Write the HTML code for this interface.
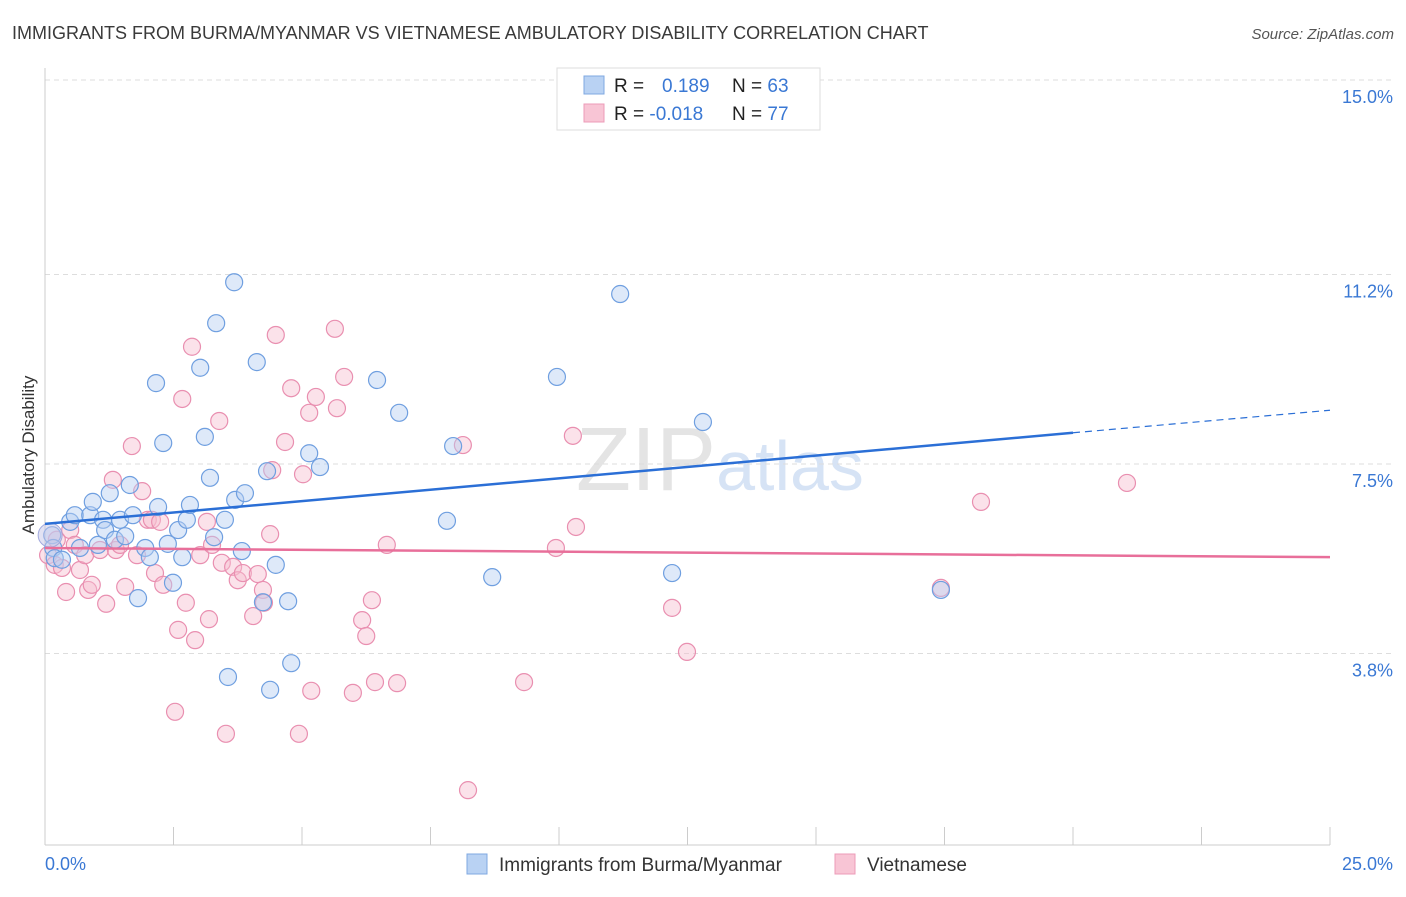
<!DOCTYPE html>
<html><head><meta charset="utf-8"><style>
body{margin:0;background:#fff;font-family:"Liberation Sans",sans-serif;}
svg text{font-family:"Liberation Sans",sans-serif;}
</style></head><body>
<svg id="chart" width="1406" height="892" xmlns="http://www.w3.org/2000/svg">
<text x="12" y="39" font-size="18" fill="#3a3a3a">IMMIGRANTS FROM BURMA/MYANMAR VS VIETNAMESE AMBULATORY DISABILITY CORRELATION CHART</text>
<text x="1394" y="39" font-size="15" fill="#555" text-anchor="end" font-style="italic">Source: ZipAtlas.com</text>
<text x="720" y="490" font-size="90" fill="#e4e4e4" text-anchor="middle" font-family="Liberation Serif">ZIP<tspan fill="#d6e3f5" font-family="Liberation Sans" font-size="70">atlas</tspan></text>
<g id="grid"></g>
<g id="axes"></g>
<g id="points"></g>
<g id="lines"></g>
<text transform="translate(34,455) rotate(-90)" font-size="17" fill="#333" text-anchor="middle">Ambulatory Disability</text>
<g>
<rect x="557" y="68" width="263" height="62" fill="#fff" stroke="#ddd"/>
<rect x="584" y="76" width="20" height="18" fill="#b9d2f3" stroke="#7fa8e2"/>
<rect x="584" y="104" width="20" height="18" fill="#f8c5d5" stroke="#ec9bb8"/>
<text x="614" y="92" font-size="19" fill="#222">R = <tspan fill="#3a78d4" x="662">0.189</tspan><tspan x="732" fill="#222">N = </tspan><tspan fill="#3a78d4">63</tspan></text>
<text x="614" y="120" font-size="19" fill="#222">R = <tspan fill="#3a78d4">-0.018</tspan><tspan x="732" fill="#222">N = </tspan><tspan fill="#3a78d4">77</tspan></text>
</g>
<g>
<rect x="467" y="854" width="20" height="20" fill="#b9d2f3" stroke="#7fa8e2"/>
<text x="499" y="871" font-size="19" fill="#333">Immigrants from Burma/Myanmar</text>
<rect x="835" y="854" width="20" height="20" fill="#f8c5d5" stroke="#ec9bb8"/>
<text x="867" y="871" font-size="19" fill="#333">Vietnamese</text>
</g>
</svg>
<script>
const yTicks=[15.0,11.2,7.5,3.8];
const yTickLabels=["15.0%","11.2%","7.5%","3.8%"];
const xTickLabels=["0.0%","25.0%"];
const blueX=[0.14,0.16,0.19,0.33,0.49,0.58,0.68,0.88,0.93,1.03,1.13,1.17,1.26,1.36,1.46,1.56,1.65,1.71,1.81,1.95,2.04,2.16,2.20,2.30,2.39,2.49,2.59,2.67,2.76,2.82,3.02,3.11,3.21,3.29,3.33,3.50,3.56,3.70,3.68,3.83,3.89,4.12,4.24,4.32,4.38,4.49,4.73,4.79,5.14,5.35,6.46,6.89,7.82,7.94,8.70,9.96,11.19,12.20,12.80,17.43];
const blueY=[6.11,5.86,5.66,5.63,6.37,6.50,5.86,6.50,6.76,5.92,6.41,6.21,6.93,6.02,6.41,6.09,7.09,6.50,4.88,5.86,5.68,9.08,6.66,7.91,5.94,5.18,6.21,5.68,6.41,6.70,9.38,8.03,7.23,6.07,10.25,6.41,3.34,6.80,11.05,5.80,6.93,9.49,4.80,7.36,3.09,5.53,4.82,3.61,7.71,7.44,9.14,8.50,6.39,7.85,5.29,9.20,10.82,5.37,8.32,5.04];
const pinkX=[0.06,0.19,0.23,0.33,0.41,0.49,0.58,0.68,0.78,0.84,0.91,1.07,1.19,1.32,1.38,1.46,1.56,1.69,1.79,1.89,2.00,2.08,2.14,2.24,2.30,2.53,2.59,2.67,2.74,2.86,2.92,3.02,3.15,3.19,3.25,3.39,3.52,3.44,3.66,3.75,3.85,4.05,4.14,4.24,4.26,4.38,4.42,4.49,4.67,4.79,4.94,5.02,5.14,5.18,5.27,5.64,5.68,5.82,5.99,6.17,6.25,6.36,6.42,6.65,6.85,8.13,8.23,9.32,9.94,10.27,10.33,12.20,12.49,17.43,18.21,21.05];
const pinkY=[5.72,5.53,6.02,5.47,5.00,6.21,5.92,5.43,5.72,5.04,5.14,5.82,4.77,7.19,5.82,5.92,5.10,7.85,5.72,6.97,6.41,6.41,5.37,6.37,5.14,2.66,4.26,8.77,4.79,9.79,4.06,5.72,6.37,4.47,5.92,8.34,2.23,5.57,5.49,5.23,5.37,4.53,5.35,5.04,4.79,6.13,7.38,10.02,7.93,8.98,2.23,7.30,8.50,3.07,8.81,10.14,8.59,9.20,3.03,4.45,4.14,4.84,3.24,5.92,3.22,7.87,1.13,3.24,5.86,8.05,6.27,4.69,3.83,5.08,6.76,7.13];
const blueTrend=[6.33,8.11,8.55];
const pinkTrend=[5.86,5.68];
const NS="http://www.w3.org/2000/svg";
const xs=v=>45+v*51.4;
const ys=v=>80+(15-v)*51.2;
function mk(tag,attrs,parent){const e=document.createElementNS(NS,tag);for(const k in attrs)e.setAttribute(k,attrs[k]);document.getElementById(parent).appendChild(e);return e;}
yTicks.forEach((t,i)=>{
 const l=mk('line',{x1:45,x2:1392,y1:ys(t),y2:ys(t),stroke:'#ddd','stroke-dasharray':'5,4'},'grid');
 
 
 const tx=mk('text',{x:1393,y:ys(t)+23,'font-size':18,fill:'#3a78d4','text-anchor':'end'},'axes');
 tx.textContent=yTickLabels[i];
 
 
});
const ax=mk('line',{x1:45,x2:1330,y1:845,y2:845,stroke:'#ccc'},'axes');


const ay=mk('line',{x1:45,x2:45,y1:68,y2:845,stroke:'#ccc'},'axes');


for(let i=0;i<=10;i++){
 const t=mk('line',{x1:xs(i*2.5),x2:xs(i*2.5),y1:827,y2:845,stroke:'#ccc'},'axes');
 
 
}
[[0,45,'start'],[25,1393,'end']].forEach((d,i)=>{
 const tx=mk('text',{x:d[1],y:870,'font-size':18,fill:'#3a78d4','text-anchor':d[2]},'axes');
 tx.textContent=xTickLabels[i];
 
 
});
function pts(X,Y,fill,stroke,name){X.forEach((x,i)=>{
 const c=mk('circle',{cx:xs(x),cy:ys(Y[i]),r:8.5,fill:fill,'fill-opacity':0.45,stroke:stroke,'stroke-width':1.2},'points');
 
 
});}
pts(pinkX,pinkY,'#f6bfd1','#e98fb0','vietnamese-point');
pts(blueX,blueY,'#b5cff2','#6f9fe0','burma-point');
const big=mk('circle',{cx:xs(0.1),cy:ys(6.11),r:12,fill:'#c6c6e8','fill-opacity':0.5,stroke:'#a0a8dd'},'points');


const b1=mk('line',{x1:xs(0),y1:ys(blueTrend[0]),x2:xs(20),y2:ys(blueTrend[1]),stroke:'#2b6fd6','stroke-width':2.5},'lines');


const b2=mk('line',{x1:xs(20),y1:ys(blueTrend[1]),x2:xs(25),y2:ys(blueTrend[2]),stroke:'#2b6fd6','stroke-width':1.2,'stroke-dasharray':'7,5'},'lines');


const p1=mk('line',{x1:xs(0),y1:ys(pinkTrend[0]),x2:xs(25),y2:ys(pinkTrend[1]),stroke:'#e86f9a','stroke-width':2.5},'lines');


</script>
</body></html>
